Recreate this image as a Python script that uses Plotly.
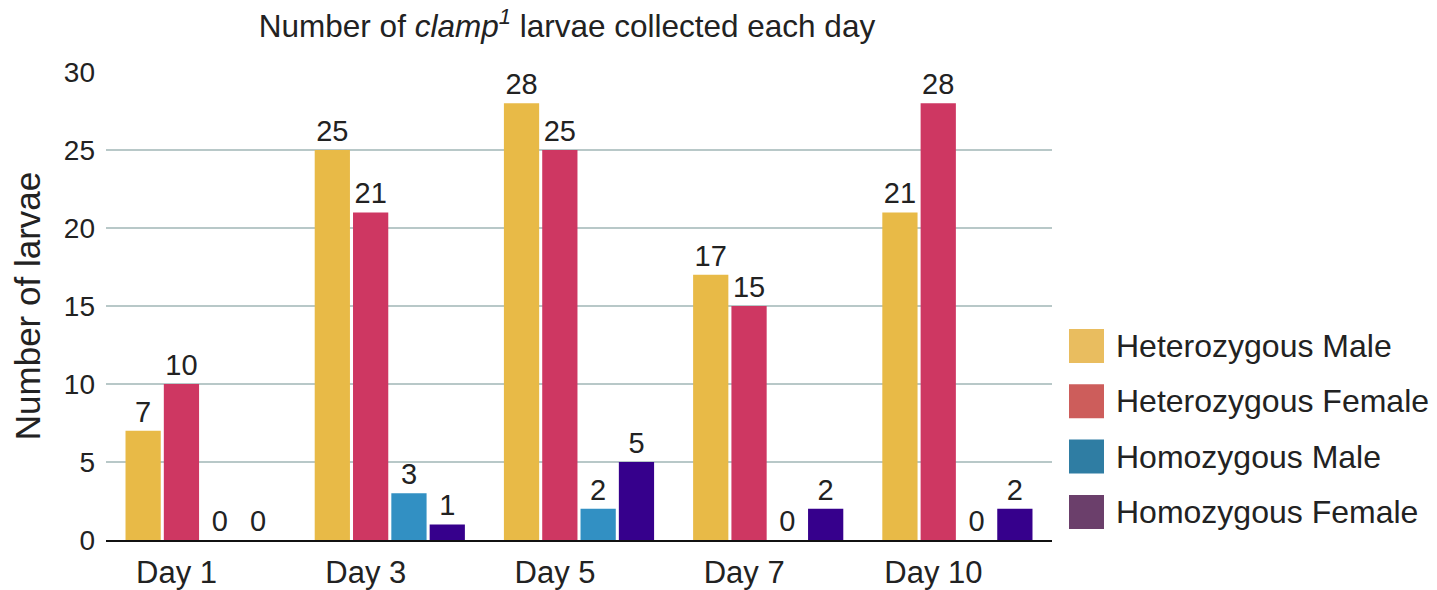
import plotly.graph_objects as go

days = ["Day 1", "Day 3", "Day 5", "Day 7", "Day 10"]
series_names = ["Heterozygous Male", "Heterozygous Female", "Homozygous Male", "Homozygous Female"]
het_male = [7, 25, 28, 17, 21]
het_female = [10, 21, 25, 15, 28]
hom_male = [0, 3, 2, 0, 0]
hom_female = [0, 1, 5, 2, 2]
y_ticks = [0, 5, 10, 15, 20, 25, 30]

bar_colors = ["#E8BA47", "#CE3762", "#3290C3", "#36008C"]
legend_colors = ["#E9BD5F", "#CD5D5B", "#2F7DA3", "#6B3F6B"]

# page body has an 8px margin; positions below are in figure pixels
OFF = 8
W, H = 1437 - OFF, 590 - OFF
L, R, T, B = 106 - OFF, 1052 - OFF, 72 - OFF, 540 - OFF

FONT = "Liberation Sans, Arial, Helvetica, sans-serif"
TXT = "#222222"

fig = go.Figure()
for name, vals, col in zip(series_names, [het_male, het_female, hom_male, hom_female], bar_colors):
    fig.add_trace(go.Bar(
        x=days, y=vals, name=name, marker=dict(color=col, line=dict(width=0)),
        text=[str(v) for v in vals], textposition="outside",
        textfont=dict(size=29, color=TXT, family=FONT),
        cliponaxis=False, showlegend=False,
    ))

def px(x):
    return (x - OFF - L) / (R - L)

def py(y):
    return (B - (y - OFF)) / (B - T)

shapes = []
annotations = []
for i, (name, col) in enumerate(zip(series_names, legend_colors)):
    cy = 346 + i * 55.3
    shapes.append(dict(type="rect", xref="paper", yref="paper",
                       x0=px(1069), x1=px(1104), y0=py(cy + 17), y1=py(cy - 17),
                       fillcolor=col, line=dict(width=0)))
    annotations.append(dict(xref="paper", yref="paper", x=px(1114), y=py(cy),
                            text=name, showarrow=False, xanchor="left", yanchor="middle",
                            font=dict(size=32, color=TXT, family=FONT)))

fig.update_layout(
    width=W, height=H,
    margin=dict(l=L, r=W - R, t=T, b=H - B, pad=0, autoexpand=False),
    paper_bgcolor="white", plot_bgcolor="white",
    barmode="group", bargap=0.19, bargroupgap=0.08,
    font=dict(family=FONT, color=TXT),
    title=dict(text="Number of <i>clamp<sup>1</sup></i> larvae collected each day",
               x=px(567), xanchor="center", xref="paper", y=1 - (26 - OFF) / H, yanchor="middle",
               automargin=False,
               font=dict(size=31.5, color=TXT, family=FONT)),
    shapes=shapes, annotations=annotations,
    showlegend=False,
)
fig.update_yaxes(range=[0, 30], tickvals=y_ticks, showgrid=True, gridcolor="#B8C8C8", gridwidth=2,
                 zeroline=False, showline=False, ticks="", ticklabelstandoff=10, automargin=False,
                 tickfont=dict(size=28, color=TXT, family=FONT),
                 title=dict(text="Number of larvae", standoff=12,
                            font=dict(size=35, color=TXT, family=FONT)))
fig.update_xaxes(showline=True, linecolor="#111111", linewidth=2, ticks="", automargin=False,
                 tickfont=dict(size=31, color=TXT, family=FONT), ticklabelstandoff=4,
                 ticklabelshift=-24)

fig.write_html("out.html")
